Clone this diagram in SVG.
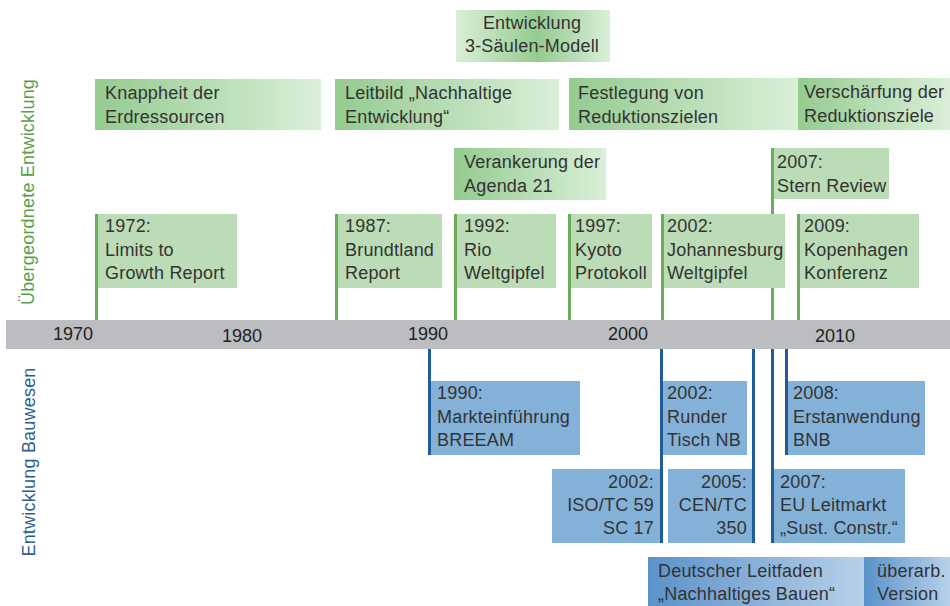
<svg xmlns="http://www.w3.org/2000/svg" width="950" height="606" viewBox="0 0 950 606">
<defs>
<linearGradient id="gG" x1="0" y1="0" x2="1" y2="0"><stop offset="0" stop-color="#95cb90"/><stop offset="1" stop-color="#daefd8"/></linearGradient>
<linearGradient id="gMid" x1="0" y1="0" x2="1" y2="0"><stop offset="0" stop-color="#daefd8"/><stop offset="0.53" stop-color="#95cb90"/><stop offset="1" stop-color="#daefd8"/></linearGradient>
<linearGradient id="gB" x1="0" y1="0" x2="1" y2="0"><stop offset="0" stop-color="#5a92ca"/><stop offset="1" stop-color="#b8d1ea"/></linearGradient>
</defs>
<style>
text{font-family:"Liberation Sans",Arial,sans-serif;font-size:18px;letter-spacing:0.2px;fill:#333;}
.yr{font-size:18px;fill:#222;letter-spacing:0;}
.gbox{fill:#bbdcb6;}
.bbox{fill:#84b1d8;}
.gbar{fill:#6aad5a;}
.bbar{fill:#1f5c99;}
.r{text-anchor:end;}
.c{text-anchor:middle;}
</style>
<rect width="950" height="606" fill="#fff"/>

<g id="connectors">
<rect class="gbar" x="95" y="214" width="3" height="106"/>
<rect class="gbar" x="335" y="214" width="3" height="106"/>
<rect class="gbar" x="454" y="214" width="3" height="106"/>
<rect class="gbar" x="568" y="214" width="3" height="106"/>
<rect class="gbar" x="661" y="214" width="3" height="106"/>
<rect class="gbar" x="771" y="148" width="3" height="172"/>
<rect class="gbar" x="797" y="214" width="3" height="106"/>
<rect class="bbar" x="428" y="349" width="3" height="106"/>
<rect class="bbar" x="660" y="349" width="3" height="194"/>
<rect class="bbar" x="752" y="349" width="3" height="194"/>
<rect class="bbar" x="771" y="349" width="3" height="194"/>
<rect class="bbar" x="785" y="349" width="3" height="106"/>
</g>

<g id="axis">
<rect x="6" y="320" width="944" height="29" fill="#bcbdc1"/>
<text class="yr c" x="73" y="340">1970</text>
<text class="yr c" x="242" y="342">1980</text>
<text class="yr c" x="428" y="340">1990</text>
<text class="yr c" x="628" y="340">2000</text>
<text class="yr c" x="835" y="342">2010</text>
</g>

<g id="label-top"><text x="34" y="192" text-anchor="middle" transform="rotate(-90 34 192)" style="fill:#5a9e4c">Übergeordnete Entwicklung</text></g>
<g id="label-bottom"><text x="35" y="462" text-anchor="middle" transform="rotate(-90 35 462)" style="fill:#2c5f8f">Entwicklung Bauwesen</text></g>

<g id="saeulen"><rect x="456" y="10" width="154" height="52" fill="url(#gMid)"/><text class="c" x="532" y="29">Entwicklung</text><text class="c" x="532" y="52">3-Säulen-Modell</text></g>
<g id="knappheit"><rect x="95" y="79" width="226" height="51" fill="url(#gG)"/><text x="105" y="99">Knappheit der</text><text x="105" y="123">Erdressourcen</text></g>
<g id="leitbild"><rect x="335" y="79" width="224" height="51" fill="url(#gG)"/><text x="345" y="99">Leitbild „Nachhaltige</text><text x="345" y="123">Entwicklung“</text></g>
<g id="festlegung"><rect x="569" y="78" width="229" height="52" fill="url(#gG)"/><text x="578" y="99">Festlegung von</text><text x="578" y="123">Reduktionszielen</text></g>
<g id="verschaerfung"><rect x="798" y="78" width="152" height="52" fill="url(#gG)"/><text x="804" y="98">Verschärfung der</text><text x="804" y="122">Reduktionsziele</text></g>
<g id="verankerung"><rect x="454" y="148" width="152" height="52" fill="url(#gG)"/><text x="464" y="168">Verankerung der</text><text x="464" y="192">Agenda 21</text></g>
<g id="stern"><rect class="gbox" x="774" y="148" width="115" height="51"/><text x="777" y="168">2007:</text><text x="777" y="192">Stern Review</text></g>

<g id="e1972"><rect class="gbox" x="98" y="214" width="139" height="74"/><text x="105" y="232">1972:</text><text x="105" y="256">Limits to</text><text x="105" y="279">Growth Report</text></g>
<g id="e1987"><rect class="gbox" x="338" y="214" width="104" height="74"/><text x="345" y="232">1987:</text><text x="345" y="256">Brundtland</text><text x="345" y="279">Report</text></g>
<g id="e1992"><rect class="gbox" x="457" y="214" width="99" height="74"/><text x="464" y="232">1992:</text><text x="464" y="256">Rio</text><text x="464" y="279">Weltgipfel</text></g>
<g id="e1997"><rect class="gbox" x="571" y="214" width="81" height="74"/><text x="575" y="232">1997:</text><text x="575" y="256">Kyoto</text><text x="575" y="279">Protokoll</text></g>
<g id="e2002j"><rect class="gbox" x="664" y="214" width="121" height="74"/><text x="667" y="232">2002:</text><text x="667" y="256">Johannesburg</text><text x="667" y="279">Weltgipfel</text></g>
<g id="e2009"><rect class="gbox" x="800" y="214" width="119" height="74"/><text x="804" y="232">2009:</text><text x="804" y="256">Kopenhagen</text><text x="804" y="279">Konferenz</text></g>

<g id="b1990"><rect class="bbox" x="431" y="381" width="149" height="74"/><text x="437" y="399">1990:</text><text x="437" y="423">Markteinführung</text><text x="437" y="446">BREEAM</text></g>
<g id="b2002r"><rect class="bbox" x="663" y="381" width="84" height="74"/><text x="667" y="399">2002:</text><text x="667" y="423">Runder</text><text x="667" y="446">Tisch NB</text></g>
<g id="b2008"><rect class="bbox" x="788" y="381" width="137" height="74"/><text x="793" y="399">2008:</text><text x="793" y="423">Erstanwendung</text><text x="793" y="446">BNB</text></g>
<g id="b2002iso"><rect class="bbox" x="552" y="469" width="108" height="74"/><text class="r" x="654" y="488">2002:</text><text class="r" x="654" y="511">ISO/TC 59</text><text class="r" x="654" y="534">SC 17</text></g>
<g id="b2005"><rect class="bbox" x="668" y="469" width="84" height="74"/><text class="r" x="747" y="488">2005:</text><text class="r" x="747" y="511">CEN/TC</text><text class="r" x="747" y="534">350</text></g>
<g id="b2007"><rect class="bbox" x="774" y="469" width="131" height="74"/><text x="780" y="488">2007:</text><text x="780" y="511">EU Leitmarkt</text><text x="780" y="534">„Sust. Constr.“</text></g>
<g id="leitfaden"><rect x="648" y="557" width="216" height="49" fill="url(#gB)"/><text x="658" y="577">Deutscher Leitfaden</text><text x="658" y="600">„Nachhaltiges Bauen“</text></g>
<g id="ueberarb"><rect x="864" y="557" width="86" height="49" fill="url(#gB)"/><text x="877" y="577">überarb.</text><text x="877" y="600">Version</text></g>
</svg>
